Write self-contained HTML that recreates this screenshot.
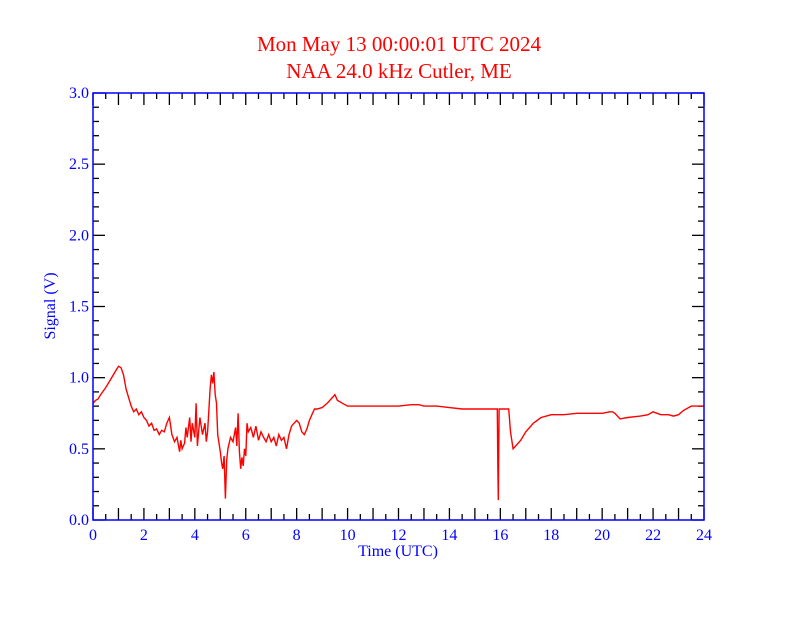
<!DOCTYPE html>
<html><head><meta charset="utf-8"><style>
html,body{margin:0;padding:0;background:#fff;}
svg, svg text{font-family:"Liberation Serif","Times New Roman",Times,serif !important;}
</style></head><body>
<svg id="chart" width="792" height="612" viewBox="0 0 792 612" xmlns="http://www.w3.org/2000/svg" font-family="Liberation Serif, Times New Roman, serif">
<text x="399" y="51" text-anchor="middle" font-size="21" fill="#ff0000">Mon May 13 00:00:01 UTC 2024</text>
<text x="399" y="78" text-anchor="middle" font-size="21" fill="#ff0000">NAA 24.0 kHz Cutler, ME</text>
<text x="398" y="556" text-anchor="middle" font-size="16" fill="#0000ff">Time (UTC)</text>
<text transform="translate(55,306) rotate(-90)" text-anchor="middle" font-size="16" fill="#0000ff">Signal (V)</text>
<g id="ticks"></g>
<g id="labels"></g>
<path id="trace" fill="none" stroke="#ff0000" stroke-width="1.4"/>
<rect x="93" y="93" width="611" height="427" fill="none" stroke="#0000ff" stroke-width="1.5"/>
</svg>
<script>
const xTickLabels=["0","2","4","6","8","10","12","14","16","18","20","22","24"];
const yTickLabels=["0.0","0.5","1.0","1.5","2.0","2.5","3.0"];
const times=[0,0.1,0.2,0.3,0.5,0.7,0.9,1.0,1.1,1.2,1.3,1.4,1.5,1.6,1.7,1.8,1.9,2.0,2.1,2.2,2.3,2.4,2.5,2.6,2.7,2.8,2.9,3.0,3.1,3.2,3.3,3.4,3.45,3.5,3.6,3.65,3.7,3.8,3.85,3.9,4.0,4.05,4.1,4.2,4.3,4.4,4.45,4.5,4.6,4.65,4.7,4.75,4.8,4.85,4.9,5.0,5.05,5.1,5.15,5.2,5.25,5.3,5.4,5.5,5.6,5.65,5.7,5.75,5.8,5.85,5.9,5.95,6.0,6.05,6.1,6.2,6.3,6.4,6.5,6.6,6.7,6.8,6.9,7.0,7.1,7.2,7.3,7.4,7.5,7.6,7.7,7.8,7.9,8.0,8.1,8.2,8.3,8.4,8.5,8.6,8.7,8.8,9.0,9.2,9.4,9.5,9.6,9.8,10.0,10.5,11,11.5,12,12.5,12.8,13,13.5,14,14.5,15,15.5,15.85,15.88,15.9,15.92,15.95,16.0,16.3,16.33,16.4,16.5,16.6,16.8,17.0,17.3,17.6,18,18.5,19,19.5,20,20.3,20.4,20.5,20.7,21,21.5,21.8,22,22.3,22.6,22.8,23.0,23.2,23.5,24];
const signal=[0.82,0.84,0.85,0.88,0.93,0.99,1.05,1.08,1.07,1.02,0.92,0.86,0.80,0.76,0.78,0.74,0.76,0.72,0.70,0.66,0.68,0.63,0.64,0.60,0.63,0.62,0.68,0.72,0.60,0.55,0.58,0.48,0.56,0.50,0.54,0.65,0.58,0.72,0.55,0.68,0.58,0.82,0.52,0.72,0.60,0.68,0.55,0.62,0.92,1.02,0.96,1.04,0.88,0.82,0.60,0.48,0.40,0.36,0.45,0.15,0.42,0.50,0.58,0.55,0.65,0.52,0.75,0.48,0.36,0.44,0.38,0.50,0.45,0.68,0.62,0.65,0.58,0.66,0.56,0.62,0.58,0.55,0.60,0.55,0.58,0.52,0.60,0.56,0.58,0.50,0.60,0.66,0.68,0.70,0.68,0.62,0.60,0.64,0.70,0.74,0.78,0.78,0.79,0.82,0.86,0.88,0.84,0.82,0.80,0.80,0.80,0.80,0.80,0.81,0.81,0.80,0.80,0.79,0.78,0.78,0.78,0.78,0.78,0.40,0.14,0.78,0.78,0.78,0.78,0.62,0.50,0.52,0.56,0.62,0.68,0.72,0.74,0.74,0.75,0.75,0.75,0.76,0.76,0.75,0.71,0.72,0.73,0.74,0.76,0.74,0.74,0.73,0.74,0.77,0.80,0.80,0.81];
const X0=93,X1=704,Y0=520,Y1=93,TMAX=24,VMAX=3;
function xs(t){return X0+(X1-X0)*t/TMAX;}
function ys(v){return Y0-(Y0-Y1)*v/VMAX;}
const NS="http://www.w3.org/2000/svg";
const tk=document.getElementById('ticks'),lb=document.getElementById('labels');
function line(x1,y1,x2,y2){const l=document.createElementNS(NS,'line');l.setAttribute('x1',x1);l.setAttribute('y1',y1);l.setAttribute('x2',x2);l.setAttribute('y2',y2);l.setAttribute('stroke','#000');l.setAttribute('stroke-width','1.3');


tk.appendChild(l);}
function txt(x,y,s,anchor){const t=document.createElementNS(NS,'text');t.setAttribute('x',x);t.setAttribute('y',y);t.setAttribute('text-anchor',anchor);t.setAttribute('font-size','16');t.setAttribute('fill','#0000ff');t.setAttribute('font-family','Liberation Serif, Times New Roman, serif');t.textContent=s;


lb.appendChild(t);}
for(let i=0;i<=48;i++){const t=i*0.5,x=xs(t),L=(i%2===0)?12:6;line(x,Y0,x,Y0-L);line(x,Y1,x,Y1+L);}
for(let i=0;i<=30;i++){const v=i*0.1,y=ys(v),L=(i%5===0)?12:6;line(X0,y,X0+L,y);line(X1,y,X1-L,y);}
xTickLabels.forEach((s,i)=>txt(xs(i*2),540,s,'middle'));
yTickLabels.forEach((s,i)=>txt(X0-4,ys(i*0.5)+5,s,'end'));
let d='';times.forEach((t,i)=>{d+=(i?'L':'M')+xs(t).toFixed(1)+' '+ys(signal[i]).toFixed(1);});
document.getElementById('trace').setAttribute('d',d);
</script>
</body></html>
